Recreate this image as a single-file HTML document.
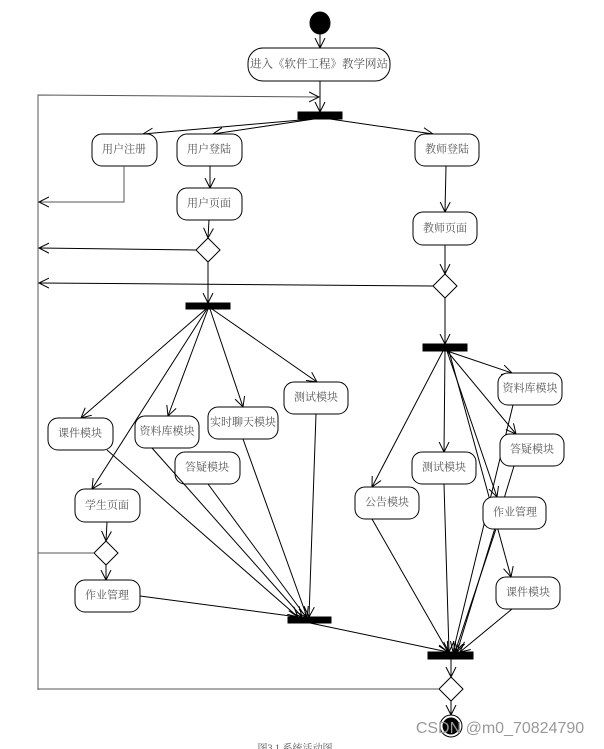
<!DOCTYPE html>
<html><head><meta charset="utf-8"><style>
html,body{margin:0;padding:0;background:#fff;}
svg{display:block}
text{font-family:"Liberation Serif","Noto Serif CJK SC","Noto Sans CJK SC",serif;font-size:11px;fill:#555;text-anchor:middle;dominant-baseline:middle}
</style></head><body>
<svg width="604" height="749" viewBox="0 0 604 749" xmlns="http://www.w3.org/2000/svg">
<defs>
<marker id="a" markerWidth="12" markerHeight="12" refX="10" refY="6" orient="auto" markerUnits="userSpaceOnUse">
<path d="M0,1 L10,6 L0,11" fill="none" stroke="#000" stroke-width="1"/>
</marker>
</defs>
<g fill="none" stroke="#000" stroke-width="1">
<ellipse cx="320" cy="23" rx="10" ry="11" fill="#000"/>
<line x1="320" y1="34" x2="320" y2="48" marker-end="url(#a)"/>
<rect x="248" y="48" width="142" height="33" rx="15" fill="#fff"/>
<line x1="320" y1="81" x2="320" y2="112" marker-end="url(#a)"/>
<polyline points="38,690 38,95 319,97" marker-end="url(#a)" stroke="#555"/>
<rect x="298" y="112" width="44" height="7" fill="#000"/>
<line x1="312" y1="119" x2="143" y2="134" marker-end="url(#a)"/>
<line x1="314" y1="119" x2="213" y2="134" marker-end="url(#a)"/>
<line x1="330" y1="119" x2="433" y2="134" marker-end="url(#a)"/>
<rect x="92" y="134" width="65" height="32" rx="10" fill="#fff"/>
<rect x="177" y="134" width="65" height="32" rx="10" fill="#fff"/>
<rect x="415" y="134" width="64" height="32" rx="10" fill="#fff"/>
<polyline points="124,166 124,202 39,202" marker-end="url(#a)" stroke="#555"/>
<line x1="210" y1="166" x2="210" y2="188" marker-end="url(#a)"/>
<rect x="177" y="188" width="65" height="32" rx="10" fill="#fff"/>
<line x1="209" y1="220" x2="208" y2="238" marker-end="url(#a)"/>
<polygon points="208,238 220,250 208,262 196,250" fill="#fff"/>
<line x1="196" y1="250" x2="39" y2="248" marker-end="url(#a)"/>
<line x1="208" y1="262" x2="208" y2="303" marker-end="url(#a)"/>
<line x1="446" y1="166" x2="445" y2="212" marker-end="url(#a)"/>
<rect x="413" y="212" width="64" height="33" rx="10" fill="#fff"/>
<line x1="445" y1="245" x2="445" y2="274" marker-end="url(#a)"/>
<polygon points="445,274 457,286 445,298 433,286" fill="#fff"/>
<line x1="433" y1="286" x2="39" y2="283" marker-end="url(#a)"/>
<line x1="445" y1="298" x2="445" y2="344" marker-end="url(#a)"/>
<rect x="186" y="303" width="44" height="6" fill="#000"/>
<line x1="206" y1="309" x2="81" y2="418" marker-end="url(#a)"/>
<line x1="207" y1="309" x2="92" y2="489" marker-end="url(#a)"/>
<line x1="208" y1="309" x2="168" y2="416" marker-end="url(#a)"/>
<line x1="210" y1="309" x2="243" y2="407" marker-end="url(#a)"/>
<line x1="212" y1="309" x2="317" y2="382" marker-end="url(#a)"/>
<rect x="48" y="418" width="65" height="32" rx="10" fill="#fff"/>
<rect x="135" y="416" width="64" height="32" rx="10" fill="#fff"/>
<rect x="208" y="407" width="70" height="32" rx="10" fill="#fff"/>
<rect x="284" y="382" width="64" height="32" rx="10" fill="#fff"/>
<rect x="175" y="452" width="65" height="32" rx="10" fill="#fff"/>
<rect x="75" y="489" width="65" height="33" rx="10" fill="#fff"/>
<line x1="107" y1="522" x2="106" y2="541" marker-end="url(#a)"/>
<polygon points="106,541 118,553 106,565 94,553" fill="#fff"/>
<line x1="94" y1="553" x2="38" y2="553" stroke="#555"/>
<line x1="106" y1="565" x2="106" y2="580" marker-end="url(#a)"/>
<rect x="75" y="580" width="65" height="32" rx="10" fill="#fff"/>
<line x1="107" y1="450" x2="298" y2="617" marker-end="url(#a)"/>
<line x1="152" y1="448" x2="302" y2="617" marker-end="url(#a)"/>
<line x1="208" y1="484" x2="306" y2="617" marker-end="url(#a)"/>
<line x1="243" y1="439" x2="307" y2="617" marker-end="url(#a)"/>
<line x1="316" y1="414" x2="309" y2="617" marker-end="url(#a)"/>
<line x1="140" y1="596" x2="298" y2="617" marker-end="url(#a)"/>
<rect x="288" y="617" width="43" height="6" fill="#000"/>
<line x1="310" y1="623" x2="448" y2="652" marker-end="url(#a)"/>
<rect x="423" y="344" width="44" height="7" fill="#000"/>
<line x1="447" y1="351" x2="512" y2="373" marker-end="url(#a)"/>
<line x1="447" y1="351" x2="516" y2="434" marker-end="url(#a)"/>
<line x1="445" y1="351" x2="444" y2="452" marker-end="url(#a)"/>
<line x1="443" y1="351" x2="372" y2="487" marker-end="url(#a)"/>
<line x1="447" y1="351" x2="497" y2="497" marker-end="url(#a)"/>
<line x1="449" y1="351" x2="511" y2="577" marker-end="url(#a)"/>
<rect x="498" y="373" width="64" height="32" rx="10" fill="#fff"/>
<rect x="412" y="452" width="64" height="32" rx="10" fill="#fff"/>
<rect x="355" y="487" width="64" height="32" rx="10" fill="#fff"/>
<rect x="496" y="577" width="64" height="32" rx="10" fill="#fff"/>
<line x1="513" y1="405" x2="453" y2="652" marker-end="url(#a)"/>
<rect x="500" y="434" width="64" height="32" rx="10" fill="#fff"/>
<line x1="514" y1="466" x2="457" y2="652" marker-end="url(#a)"/>
<rect x="483" y="497" width="63" height="32" rx="10" fill="#fff"/>
<line x1="496" y1="529" x2="455" y2="652" marker-end="url(#a)"/>
<line x1="372" y1="519" x2="448" y2="652" marker-end="url(#a)"/>
<line x1="444" y1="484" x2="449" y2="652" marker-end="url(#a)"/>
<line x1="512" y1="609" x2="460" y2="652" marker-end="url(#a)"/>
<rect x="428" y="652" width="45" height="7" fill="#000"/>
<line x1="451" y1="659" x2="451" y2="677" marker-end="url(#a)"/>
<polygon points="451,677 463,689 451,701 439,689" fill="#fff"/>
<line x1="439" y1="689" x2="38" y2="689" stroke="#555"/>
<line x1="451" y1="701" x2="451" y2="715" marker-end="url(#a)"/>
<circle cx="451" cy="726" r="11" fill="#fff"/>
<circle cx="451" cy="726" r="8" fill="#000"/>
</g>
<text x="319" y="65" style="font-size:11.5px">进入《软件工程》教学网站</text>
<text x="124" y="150">用户注册</text>
<text x="209" y="150">用户登陆</text>
<text x="447" y="150">教师登陆</text>
<text x="209" y="204">用户页面</text>
<text x="445" y="229">教师页面</text>
<text x="80" y="434">课件模块</text>
<text x="167" y="432">资料库模块</text>
<text x="243" y="423">实时聊天模块</text>
<text x="316" y="398">测试模块</text>
<text x="207" y="468">答疑模块</text>
<text x="107" y="506">学生页面</text>
<text x="107" y="596">作业管理</text>
<text x="530" y="389">资料库模块</text>
<text x="532" y="450">答疑模块</text>
<text x="444" y="468">测试模块</text>
<text x="387" y="503">公告模块</text>
<text x="515" y="513">作业管理</text>
<text x="528" y="593">课件模块</text>
<text x="500" y="729" style="font-family:'Liberation Sans',sans-serif;font-size:16px;fill:#999">CSDN @m0_70824790</text>
<text x="295" y="749" style="font-size:10px">图3.1 系统活动图</text>
</svg>
</body></html>
